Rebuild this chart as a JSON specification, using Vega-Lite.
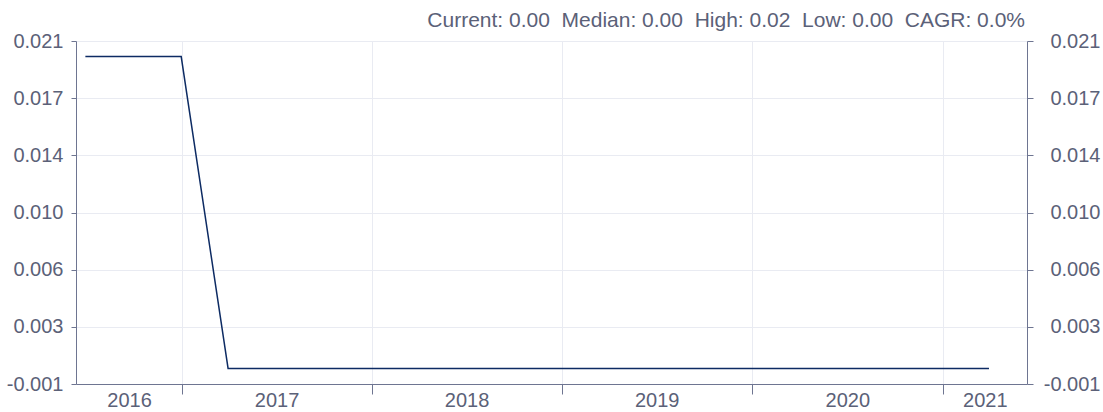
{
  "$schema": "https://vega.github.io/schema/vega-lite/v6.json",
  "width": 951,
  "height": 343,
  "autosize": {"type": "none"},
  "padding": {"left": 76, "top": 41, "right": 76, "bottom": 28},
  "background": "#ffffff",
  "title": {
    "text": "Current: 0.00\u00a0\u00a0Median: 0.00\u00a0\u00a0High: 0.02\u00a0\u00a0Low: 0.00\u00a0\u00a0CAGR: 0.0%",
    "anchor": "end",
    "frame": "group",
    "font": "Liberation Sans",
    "fontSize": 21,
    "fontWeight": "normal",
    "color": "#5b6178",
    "offset": 0,
    "dx": -2
  },
  "data": {
    "values": [
      {"date": "2016-06-30", "value": 0.02},
      {"date": "2016-09-30", "value": 0.02},
      {"date": "2016-12-31", "value": 0.02},
      {"date": "2017-03-31", "value": 0},
      {"date": "2017-06-30", "value": 0},
      {"date": "2017-09-30", "value": 0},
      {"date": "2017-12-31", "value": 0},
      {"date": "2018-03-31", "value": 0},
      {"date": "2018-06-30", "value": 0},
      {"date": "2018-09-30", "value": 0},
      {"date": "2018-12-31", "value": 0},
      {"date": "2019-03-31", "value": 0},
      {"date": "2019-06-30", "value": 0},
      {"date": "2019-09-30", "value": 0},
      {"date": "2019-12-31", "value": 0},
      {"date": "2020-03-31", "value": 0},
      {"date": "2020-06-30", "value": 0},
      {"date": "2020-09-30", "value": 0},
      {"date": "2020-12-31", "value": 0},
      {"date": "2021-03-31", "value": 0}
    ]
  },
  "config": {
    "view": {"stroke": null},
    "axis": {
      "labelFont": "Liberation Sans",
      "labelFontSize": 20,
      "labelColor": "#5b6178",
      "domainColor": "#6e7591",
      "tickColor": "#6e7591",
      "gridColor": "#e9ebf2",
      "title": null
    }
  },
  "layer": [
    {
      "mark": {"type": "line", "color": "#0d2b63", "strokeWidth": 1.5, "clip": true},
      "encoding": {
        "x": {
          "field": "date",
          "type": "temporal",
          "scale": {
            "type": "utc",
            "domain": [
              {"year": 2016, "month": 6, "date": 12, "utc": true},
              {"year": 2021, "month": 6, "date": 12, "utc": true}
            ]
          },
          "axis": {
            "orient": "bottom",
            "values": [
              {"year": 2017, "month": 1, "date": 1, "utc": true},
              {"year": 2018, "month": 1, "date": 1, "utc": true},
              {"year": 2019, "month": 1, "date": 1, "utc": true},
              {"year": 2020, "month": 1, "date": 1, "utc": true},
              {"year": 2021, "month": 1, "date": 1, "utc": true}
            ],
            "labels": false,
            "ticks": true,
            "tickSize": 10,
            "grid": true,
            "domain": true
          }
        },
        "y": {
          "field": "value",
          "type": "quantitative",
          "scale": {"domain": [-0.001, 0.021], "nice": false, "zero": false},
          "axis": {
            "orient": "left",
            "values": [-0.001, 0.0026667, 0.0063333, 0.01, 0.0136667, 0.0173333, 0.021],
            "labelExpr": "replace(format(datum.value, '.3f'), '\u2212', '-')",
            "tickSize": 5,
            "labelPadding": 8,
            "grid": true,
            "domain": true
          }
        }
      }
    },
    {
      "mark": {"type": "line", "strokeOpacity": 0},
      "encoding": {
        "x": {
          "field": "date",
          "type": "temporal",
          "axis": {
            "orient": "bottom",
            "values": [
              {"year": 2016, "month": 9, "date": 22, "utc": true},
              {"year": 2017, "month": 7, "date": 2, "utc": true},
              {"year": 2018, "month": 7, "date": 2, "utc": true},
              {"year": 2019, "month": 7, "date": 2, "utc": true},
              {"year": 2020, "month": 7, "date": 2, "utc": true},
              {"year": 2021, "month": 3, "date": 23, "utc": true}
            ],
            "labelExpr": "utcFormat(datum.value, '%Y')",
            "ticks": false,
            "grid": false,
            "domain": false,
            "labelPadding": 6,
            "labelFlush": false,
            "labelOverlap": false
          }
        },
        "y": {
          "field": "value",
          "type": "quantitative",
          "axis": {
            "orient": "right",
            "values": [-0.001, 0.0026667, 0.0063333, 0.01, 0.0136667, 0.0173333, 0.021],
            "labelExpr": "replace(format(datum.value, '.3f'), '\u2212', '-')",
            "tickSize": 6,
            "labelAlign": "right",
            "labelPadding": 67,
            "grid": false,
            "domain": true
          }
        }
      }
    }
  ],
  "resolve": {"axis": {"x": "independent", "y": "independent"}}
}
